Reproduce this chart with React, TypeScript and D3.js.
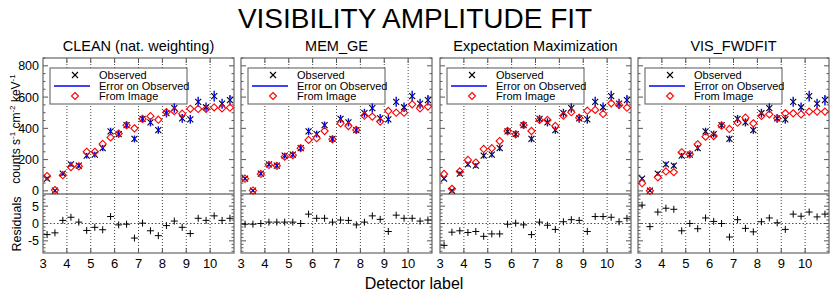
import React from "react";
import * as d3 from "d3";

const detectorPos = [3.17, 3.5, 3.83, 4.17, 4.5, 4.83, 5.17, 5.5, 5.83, 6.17, 6.5, 6.83, 7.17, 7.5, 7.83, 8.17, 8.5, 8.83, 9.17, 9.5, 9.83, 10.17, 10.5, 10.83];
const observed = [78, 2, 110, 170, 162, 225, 232, 274, 380, 363, 420, 332, 460, 438, 389, 497, 530, 464, 458, 570, 535, 606, 558, 580];
const obsError = [12, 6, 14, 16, 16, 18, 18, 20, 24, 22, 24, 22, 26, 26, 24, 28, 30, 28, 28, 32, 30, 34, 32, 34];

const panelTitles = ["CLEAN (nat. weighting)", "MEM_GE", "Expectation Maximization", "VIS_FWDFIT"];
const cleanModel = [95, 5, 100, 152, 157, 250, 250, 300, 342, 367, 420, 400, 460, 478, 455, 503, 510, 494, 525, 524, 524, 534, 528, 532];
const memModel = [78, 2, 108, 166, 160, 219, 228, 273, 326, 337, 383, 330, 432, 415, 390, 481, 475, 443, 511, 500, 500, 554, 528, 539];
const emModel = [108, 13, 124, 198, 181, 268, 273, 319, 383, 362, 422, 383, 454, 454, 415, 481, 503, 468, 513, 518, 492, 560, 550, 532];
const vfModel = [49, 0, 87, 124, 120, 247, 234, 298, 347, 351, 417, 396, 436, 468, 432, 479, 490, 464, 496, 496, 490, 507, 507, 507];

const cleanRes = [-3.2, -2.7, 0.9, 1.8, 0.4, -2.0, -1.1, -1.8, 2.0, -0.4, -0.2, -4.2, 0.1, -2.1, -3.5, -0.6, 0.7, -1.1, -2.9, 1.5, 0.9, 2.2, 0.9, 1.5];
const memRes = [-0.2, -0.2, 0, 0.4, 0.4, 0.4, 0.4, 0, 2.7, 1.5, 1.5, 0.4, 1.0, 0.9, -0.4, 0.4, 2.2, 1.2, -2.3, 2.4, 1.5, 1.5, 0.7, 1.0];
const emRes = [-6.3, -2.5, -2.1, -2.6, -2.3, -3.7, -3.0, -3.0, -0.2, 0.1, -0.4, -3.2, 0.4, -0.5, -1.7, 0.5, 1.1, 0.9, -2.3, 2.0, 2.0, 1.8, 0.5, 1.5];
const vfRes = [5.3, -0.9, 3.3, 4.4, 4.1, -2.1, 0, -1.5, 1.6, 0.6, 0, -3.9, 1.1, -1.4, -2.4, 0.5, 1.6, 0.2, -1.7, 2.7, 2.1, 3.3, 1.9, 2.7];

const models = [cleanModel, memModel, emModel, vfModel];
const residuals = [cleanRes, memRes, emRes, vfRes];

const xTickLabels = [3, 4, 5, 6, 7, 8, 9, 10];
const xGrid = [4, 5, 6, 7, 8, 9, 10];
const yTicksMain = [0, 200, 400, 600, 800];
const yTicksRes = [-5, 0, 5];
const legendLabels = ["Observed", "Error on Observed", "From Image"];

const FONT = "'Liberation Sans', Arial, Helvetica, sans-serif";

const panelLefts = [43, 241, 440, 638];
const PW = 191;
const TOP = 58;
const MID = 194;
const BOT = 253;

const yMain = d3.scaleLinear().domain([-20, 850]).range([MID, TOP]);
const yRes = d3.scaleLinear().domain([-8.5, 8.5]).range([BOT, MID]);

function Panel({ k }: { k: number }) {
  const L = panelLefts[k];
  const R = L + PW;
  const x = d3.scaleLinear().domain([3, 11]).range([L, R]);
  const model = models[k];
  const res = residuals[k];
  const minorMain = d3.range(0, 851, 50);
  const minorRes = d3.range(-8, 9, 1);
  return (
    <g>
      {xGrid.map((g) => (
        <g key={"g" + g}>
          <line x1={x(g)} x2={x(g)} y1={TOP} y2={MID} stroke="#444" strokeWidth={1} strokeDasharray="1,2" />
          <line x1={x(g)} x2={x(g)} y1={MID} y2={BOT} stroke="#444" strokeWidth={1} strokeDasharray="1,2" />
        </g>
      ))}
      {minorMain.map((v) => {
        const major = v % 200 === 0;
        const len = major ? 5 : 2.5;
        return (
          <g key={"m" + v}>
            <line x1={L} x2={L + len} y1={yMain(v)} y2={yMain(v)} stroke="#555" strokeWidth={1} />
            <line x1={R} x2={R - len} y1={yMain(v)} y2={yMain(v)} stroke="#555" strokeWidth={1} />
          </g>
        );
      })}
      {minorRes.map((v) => {
        const major = v % 5 === 0;
        const len = major ? 5 : 2.5;
        return (
          <g key={"r" + v}>
            <line x1={L} x2={L + len} y1={yRes(v)} y2={yRes(v)} stroke="#555" strokeWidth={1} />
            <line x1={R} x2={R - len} y1={yRes(v)} y2={yRes(v)} stroke="#555" strokeWidth={1} />
          </g>
        );
      })}
      {xGrid.map((g) => (
        <g key={"xt" + g}>
          <line x1={x(g)} x2={x(g)} y1={TOP} y2={TOP + 5} stroke="#555" strokeWidth={1} />
          <line x1={x(g)} x2={x(g)} y1={BOT} y2={BOT - 5} stroke="#555" strokeWidth={1} />
        </g>
      ))}
      <line x1={L} x2={R} y1={yRes(0)} y2={yRes(0)} stroke="red" strokeWidth={1} strokeDasharray="1.5,2" />
      <rect x={L} y={TOP} width={PW} height={BOT - TOP} fill="none" stroke="#666" strokeWidth={1.2} />
      <line x1={L} x2={R} y1={MID} y2={MID} stroke="#777" strokeWidth={1.6} />
      <rect x={L + 7} y={68} width={137} height={36} fill="#fff" stroke="#666" strokeWidth={1.1} />
      <g stroke="#000" strokeWidth={1.1}>
        <line x1={L + 29} x2={L + 35} y1={72} y2={78} />
        <line x1={L + 29} x2={L + 35} y1={78} y2={72} />
      </g>
      <line x1={L + 11} x2={L + 47} y1={86} y2={86} stroke="blue" strokeWidth={1.3} />
      <path d={`M${L + 32},${92.5} L${L + 35.5},${96} L${L + 32},${99.5} L${L + 28.5},${96} Z`} fill="none" stroke="red" strokeWidth={1.1} />
      {legendLabels.map((t, i) => (
        <text key={t} x={L + 56} y={79 + i * 10.5} fontSize={11} fontFamily={FONT} fill="#000">{t}</text>
      ))}
      {detectorPos.map((p, i) => {
        const cx = x(p);
        const cy = yMain(observed[i]);
        return (
          <g key={"x" + i} stroke="#000" strokeWidth={1.1}>
            <line x1={cx - 3} x2={cx + 3} y1={cy - 3} y2={cy + 3} />
            <line x1={cx - 3} x2={cx + 3} y1={cy + 3} y2={cy - 3} />
          </g>
        );
      })}
      {detectorPos.map((p, i) => (
        <line key={"e" + i} x1={x(p)} x2={x(p)} y1={yMain(observed[i] - obsError[i])} y2={yMain(observed[i] + obsError[i])} stroke="blue" strokeWidth={1.4} />
      ))}
      {detectorPos.map((p, i) => {
        const cx = x(p);
        const cy = yMain(model[i]);
        return (
          <path key={"d" + i} d={`M${cx},${cy - 3.6} L${cx + 3.6},${cy} L${cx},${cy + 3.6} L${cx - 3.6},${cy} Z`} fill="none" stroke="red" strokeWidth={1.1} />
        );
      })}
      {detectorPos.map((p, i) => {
        const cx = x(p);
        const cy = yRes(res[i]);
        return (
          <g key={"p" + i} stroke="#000" strokeWidth={1}>
            <line x1={cx - 3.5} x2={cx + 3.5} y1={cy} y2={cy} />
            <line x1={cx} x2={cx} y1={cy - 3.5} y2={cy + 3.5} />
          </g>
        );
      })}
      {xTickLabels.map((t) => (
        <text key={"xl" + t} x={x(t)} y={268} fontSize={13} fontFamily={FONT} textAnchor="middle" fill="#000">{t}</text>
      ))}
      <text x={(L + R) / 2} y={51} fontSize={14.5} fontFamily={FONT} textAnchor="middle" fill="#000">{panelTitles[k]}</text>
    </g>
  );
}

export default function App() {
  return (
    <svg width={830} height={293} style={{ position: "absolute", left: 0, top: 0, background: "#fff" }}>
      <rect x={0} y={0} width={830} height={293} fill="#fff" />
      <text x={415} y={28} fontSize={28} fontFamily={FONT} textAnchor="middle" fill="#000">VISIBILITY AMPLITUDE FIT</text>
      {[0, 1, 2, 3].map((k) => <Panel key={k} k={k} />)}
      {yTicksMain.map((v) => (
        <text key={"ym" + v} x={39} y={yMain(v) + 4.5} fontSize={12.5} fontFamily={FONT} textAnchor="end" fill="#000">{v}</text>
      ))}
      {yTicksRes.map((v) => (
        <text key={"yr" + v} x={39} y={yRes(v) + 4.5} fontSize={12.5} fontFamily={FONT} textAnchor="end" fill="#000">{v}</text>
      ))}
      <text transform="translate(20,129) rotate(-90)" fontSize={12} fontFamily={FONT} textAnchor="middle" fill="#000">
        counts s<tspan fontSize={8} dy={-5}>-1</tspan><tspan dy={5}> cm</tspan><tspan fontSize={8} dy={-5}>-2</tspan><tspan dy={5}> keV</tspan><tspan fontSize={8} dy={-5}>-1</tspan>
      </text>
      <text transform="translate(21,224) rotate(-90)" fontSize={12.5} fontFamily={FONT} textAnchor="middle" fill="#000">Residuals</text>
      <text x={414} y={289} fontSize={16} fontFamily={FONT} textAnchor="middle" fill="#000">Detector label</text>
    </svg>
  );
}
